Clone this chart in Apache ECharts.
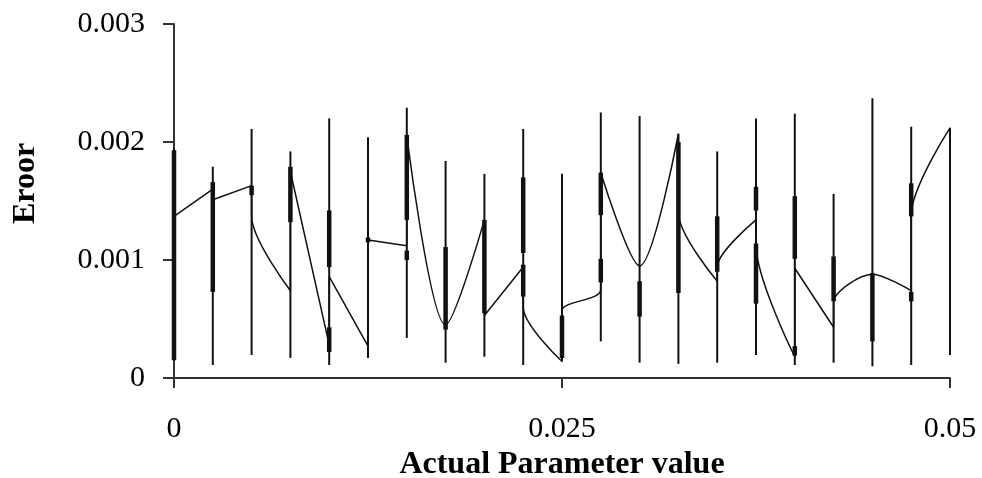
<!DOCTYPE html>
<html>
<head>
<meta charset="utf-8">
<script src="https://cdn.jsdelivr.net/npm/echarts@6/dist/echarts.min.js"></script>
<style>
  html, body { margin: 0; padding: 0; background: #fff; }
  #main { width: 982px; height: 478px; }
</style>
</head>
<body>
<div id="main"></div>
<script>
// parameter positions
const xs = [0, 0.0025, 0.005, 0.0075, 0.01, 0.0125, 0.015, 0.0175, 0.02, 0.0225, 0.025,
            0.0275, 0.03, 0.0325, 0.035, 0.0375, 0.04, 0.0425, 0.045, 0.0475, 0.05];

// thin high-low lines
const thinLow  = [0.00015, 0.00011, 0.000195, 0.00017, 0.00011, 0.00017, 0.00034, 0.00013, 0.00018, 0.00011, 0.00014,
                  0.00031, 0.00013, 0.00012, 0.00013, 0.000195, 0.00011, 0.00013, 0.00010, 0.00011, 0.000195];
const thinHigh = [0.00195, 0.00179, 0.00211, 0.00192, 0.00220, 0.00204, 0.00229, 0.00184, 0.00173, 0.00211, 0.00173,
                  0.00225, 0.00222, 0.00207, 0.00192, 0.00220, 0.00224, 0.00156, 0.00237, 0.00213, 0.00212];

// thick segments (second one where there is one)
const thickLow   = [0.00015, 0.00073, 0.00155, 0.00132, 0.00094, 0.00115, 0.00134, 0.00041, 0.00055, 0.00106, 0.00017,
                    0.00138, 0.00052, 0.00072, 0.00090, 0.00142, 0.00101, 0.00065, 0.00031, 0.00137, null];
const thickHigh  = [0.00193, 0.00166, 0.00163, 0.00179, 0.00142, 0.00119, 0.00206, 0.00111, 0.00134, 0.00170, 0.00053,
                    0.00174, 0.00082, 0.00200, 0.00137, 0.00162, 0.00154, 0.00103, 0.00089, 0.00165, null];
const thick2Low  = [null, null, null, null, 0.00022, null, 0.00100, null, null, 0.00069, null,
                    0.00081, null, null, null, 0.00063, 0.00019, null, null, 0.00065, null];
const thick2High = [null, null, null, null, 0.00043, null, 0.00108, null, null, 0.00096, null,
                    0.00101, null, null, null, 0.00114, 0.00027, null, null, 0.00073, null];

// error curve: value arriving at each x and value leaving it
const lineIn  = [null, 0.00160, 0.00163, 0.00074, 0.00028, 0.00027, 0.00112, 0.00045, 0.00134, 0.00094, 0.00014,
                 0.00075, 0.00095, 0.00207, 0.00082, 0.00134, 0.00018, 0.00043, 0.00088, 0.00074, 0.00212];
const lineOut = [0.00137, 0.00151, 0.00137, 0.00175, 0.00086, 0.00117, 0.00205, 0.00045, 0.00053, 0.00060, 0.00057,
                 0.00174, 0.00095, 0.00140, 0.00094, 0.00113, 0.00093, 0.00064, 0.00088, 0.00138, null];

const thinData = xs.map((x, i) => [x, thinLow[i], thinHigh[i]]);
const thickData = [];
xs.forEach((x, i) => {
    if (thickLow[i] != null) thickData.push([x, thickLow[i], thickHigh[i]]);
    if (thick2Low[i] != null) thickData.push([x, thick2Low[i], thick2High[i]]);
});
const lineData = [];
xs.forEach((x, i) => {
    if (lineIn[i] != null) lineData.push([x, lineIn[i]]);
    if (lineOut[i] != null && lineOut[i] !== lineIn[i]) lineData.push([x, lineOut[i]]);
});

function barRenderer(width) {
    return function (params, api) {
        const x = api.value(0);
        const p1 = api.coord([x, api.value(1)]);
        const p2 = api.coord([x, api.value(2)]);
        return {
            type: 'line',
            shape: { x1: p1[0], y1: p1[1], x2: p2[0], y2: p2[1] },
            style: { stroke: '#111', lineWidth: width }
        };
    };
}

const font = 'Liberation Serif';
const axisLine = { show: true, onZero: false, lineStyle: { color: '#333', width: 2 } };

let myChart = echarts.init(document.getElementById('main'));
let option = {
    animation: false,
    grid: { left: 174, right: 32, top: 24, bottom: 100, containLabel: false, outerBoundsMode: 'none' },
    xAxis: {
        type: 'value',
        min: 0,
        max: 0.05,
        interval: 0.025,
        name: 'Actual Parameter value',
        nameLocation: 'middle',
        nameGap: 71,
        nameTextStyle: { fontFamily: font, fontWeight: 'bold', fontSize: 32, color: '#000' },
        axisLine: axisLine,
        axisTick: { show: true, length: 10, lineStyle: { color: '#333', width: 2 } },
        axisLabel: {
            margin: 36,
            fontFamily: font,
            fontSize: 30,
            color: '#000',
            formatter: v => v === 0 ? '0' : String(+v.toFixed(4))
        },
        splitLine: { show: false }
    },
    yAxis: {
        type: 'value',
        min: 0,
        max: 0.003,
        interval: 0.001,
        name: 'Eroor',
        nameLocation: 'middle',
        nameGap: 132,
        nameRotate: 90,
        nameTextStyle: { fontFamily: font, fontWeight: 'bold', fontSize: 32, color: '#000', padding: [0, 0, 0, 35] },
        axisLine: axisLine,
        axisTick: { show: true, length: 11, lineStyle: { color: '#333', width: 2 } },
        axisLabel: {
            margin: 29,
            fontFamily: font,
            fontSize: 30,
            color: '#000',
            formatter: v => v === 0 ? '0' : v.toFixed(3)
        },
        splitLine: { show: false }
    },
    series: [
        {
            name: 'range',
            type: 'custom',
            renderItem: barRenderer(2),
            encode: { x: 0, y: [1, 2] },
            data: thinData,
            z: 2
        },
        {
            name: 'band',
            type: 'custom',
            renderItem: barRenderer(4.5),
            encode: { x: 0, y: [1, 2] },
            data: thickData,
            z: 3
        },
        {
            name: 'error',
            type: 'line',
            data: lineData,
            smooth: 0.3,
            symbol: 'none',
            lineStyle: { color: '#111', width: 1.5 },
            z: 4
        }
    ]
};
myChart.setOption(option);
</script>
</body>
</html>
